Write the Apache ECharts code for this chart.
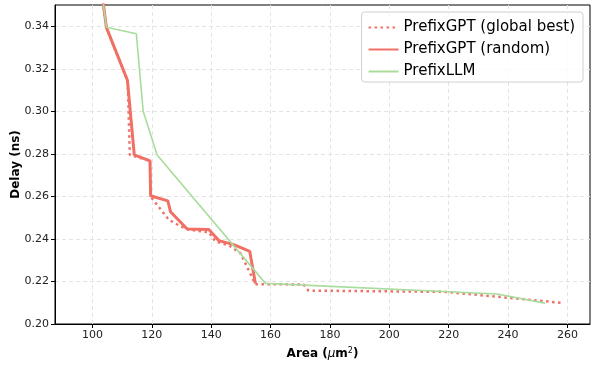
<!DOCTYPE html>
<html style="height: 100%">
<head>
<meta charset="utf-8">
<title>ECharts</title>
<script src="https://cdn.jsdelivr.net/npm/echarts@6/dist/echarts.min.js"></script>
</head>
<body style="height: 100%; margin: 0">
<div id="container" style="width: 598px; height: 368px"></div>
<script type="text/javascript">
// PrefixGPT (global best)
var bestArea  = [102.8, 104.7, 111.9, 112.6, 119.4, 119.6, 120.7, 125.7, 129.7, 132.5, 139.2, 141.4, 145.9, 149.8, 152.6, 154.9, 171.1, 172.8, 219.0, 258.5];
var bestDelay = [0.360, 0.3395, 0.3140, 0.2795, 0.2767, 0.2600, 0.2579, 0.2491, 0.2459, 0.2444, 0.2431, 0.2389, 0.2370, 0.2334, 0.2254, 0.2187, 0.2186, 0.2157, 0.2151, 0.2099];
// PrefixGPT (random)
var randArea  = [102.8, 104.7, 111.8, 114.1, 119.4, 119.6, 125.4, 126.3, 131.9, 139.2, 142.6, 147.6, 153.0, 154.9];
var randDelay = [0.360, 0.3395, 0.3146, 0.2795, 0.2767, 0.2603, 0.2579, 0.2528, 0.2447, 0.2444, 0.2392, 0.2373, 0.2341, 0.2190];
// PrefixLLM
var llmArea  = [102.8, 104.7, 114.8, 117.1, 121.8, 158.3, 236.3, 252.4];
var llmDelay = [0.360, 0.3395, 0.3365, 0.3000, 0.2795, 0.2191, 0.2141, 0.2098];

var xTicks = [100, 120, 140, 160, 180, 200, 220, 240, 260];
var yTicks = [0.20, 0.22, 0.24, 0.26, 0.28, 0.30, 0.32, 0.34];

function pairs(xs, ys) {
	var out = [];
	for (var i = 0; i < xs.length; i++) {
		out.push([xs[i], ys[i]]);
	}
	return out;
}

var myChart = echarts.init(document.getElementById('container'));

var font = 'DejaVu Sans';
var red = '#f07066';
var green = '#a8dc9c';

var option = {
	animation : false,
	grid : {
		left : 55,
		right : 8,
		top : 5,
		bottom : 44,
		outerBoundsMode : 'none',
		containLabel : false,
		show : true,
		borderColor : '#000',
		borderWidth : 1
	},
	legend : {
		orient : 'vertical',
		right : 15,
		top : 12,
		padding : [8, 8, 3, 6],
		itemWidth : 30,
		itemHeight : 14,
		itemGap : 7,
		itemStyle : { opacity : 0 },
		backgroundColor : 'rgba(255,255,255,0.8)',
		borderColor : '#d0d0d0',
		borderWidth : 1,
		borderRadius : 3,
		textStyle : {
			fontFamily : font,
			fontSize : 15,
			color : '#000'
		},
		data : [ 'PrefixGPT (global best)', 'PrefixGPT (random)', 'PrefixLLM' ]
	},
	xAxis : {
		type : 'value',
		min : 87.4,
		max : 267.6,
		name : '{b|Area (}{i|μ}{b|m}{s|2}{b|)}',
		nameLocation : 'middle',
		nameGap : 23,
		nameMoveOverlap : false,
		nameTextStyle : {
			rich : {
				b : { fontFamily : font, fontSize : 12, fontWeight : 'bold', color : '#000' },
				i : { fontFamily : font, fontSize : 12, fontStyle : 'italic', color : '#000' },
				s : { fontFamily : font, fontSize : 8, color : '#000', verticalAlign : 'top', padding : [0, 0, 6, 0] }
			}
		},
		axisLine : { lineStyle : { color : '#000', width : 1 } },
		axisTick : { customValues : xTicks, length : 4, lineStyle : { color : '#000' } },
		axisLabel : { customValues : xTicks, margin : 6, fontFamily : font, fontSize : 11, color : '#222' },
		splitLine : { show : true, lineStyle : { color : '#e4e4e4', type : [4, 3] } }
	},
	yAxis : {
		type : 'value',
		min : 0.2,
		max : 0.35,
		name : 'Delay (ns)',
		nameLocation : 'middle',
		nameGap : 33,
		nameMoveOverlap : false,
		nameTextStyle : { fontFamily : font, fontSize : 12, fontWeight : 'bold', color : '#000' },
		axisLine : { lineStyle : { color : '#000', width : 1 } },
		axisTick : { customValues : yTicks, length : 4, lineStyle : { color : '#000' } },
		axisLabel : {
			customValues : yTicks,
			margin : 6,
			fontFamily : font,
			fontSize : 11,
			color : '#222',
			formatter : function (v) { return v.toFixed(2); }
		},
		splitLine : { show : true, lineStyle : { color : '#e4e4e4', type : [4, 3] } }
	},
	series : [ {
		name : 'PrefixGPT (global best)',
		type : 'line',
		data : pairs(bestArea, bestDelay),
		symbol : 'none',
		color : red,
		lineStyle : { width : 2.5, type : [2.5, 3.5], color : red }
	}, {
		name : 'PrefixGPT (random)',
		type : 'line',
		data : pairs(randArea, randDelay),
		symbol : 'none',
		color : red,
		lineStyle : { width : 3, color : red }
	}, {
		name : 'PrefixLLM',
		type : 'line',
		data : pairs(llmArea, llmDelay),
		symbol : 'none',
		color : green,
		lineStyle : { width : 1.6, color : green }
	} ]
};

myChart.setOption(option);
</script>
</body>
</html>
